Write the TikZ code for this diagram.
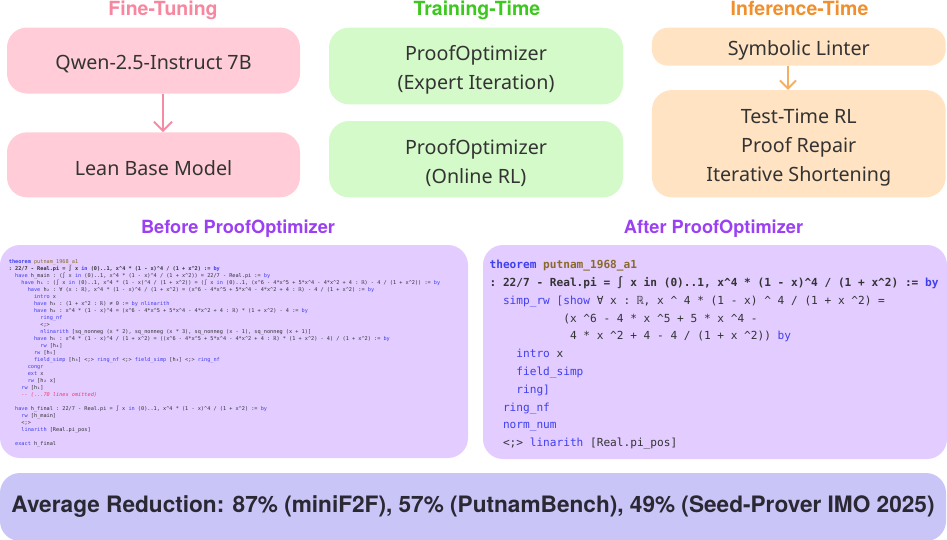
\documentclass[tikz,border=0pt]{standalone}
\usepackage{fontspec}
\usepackage{graphicx}
\setmainfont{Noto Sans}
\newfontfamily\headfont{TeX Gyre Heros}
\newfontfamily\codefont{DejaVu Sans Mono}
\usetikzlibrary{arrows.meta}
\definecolor{pinkbox}{HTML}{FFCCD8}
\definecolor{pinkT}{HTML}{F7879F}
\definecolor{pinkA}{HTML}{F58AA5}
\definecolor{greenbox}{HTML}{D3FAC8}
\definecolor{greenT}{HTML}{3CC81E}
\definecolor{peachbox}{HTML}{FFE3C2}
\definecolor{orangeT}{HTML}{F08F2E}
\definecolor{orangeA}{HTML}{F5AE62}
\definecolor{purpleT}{HTML}{9B40F2}
\definecolor{codebox}{HTML}{E3CCFF}
\definecolor{bannerbox}{HTML}{C9C5F7}
\definecolor{txt}{HTML}{333333}
\definecolor{bantxt}{HTML}{2A2833}
\definecolor{kw}{HTML}{3F3FEE}
\definecolor{nm}{HTML}{8A6A2B}
\definecolor{cm}{HTML}{F03A6A}
\newcommand\ind[1]{\hspace*{#1\fontcharwd\font`0}}
\newcommand\kw[1]{\textcolor{kw}{#1}}
\tikzset{
  box/.style={rounded corners=20pt, inner sep=0pt},
  boxlabel/.style={inner sep=0pt, align=center, text=txt,
    font=\fontsize{19.7}{29}\selectfont},
  coltitle/.style={inner sep=0pt, anchor=base, font=\headfont\bfseries\fontsize{19.5}{23}\selectfont},
  codetitle/.style={inner sep=0pt, anchor=base, font=\headfont\bfseries\fontsize{18.2}{22}\selectfont, text=purpleT},
  codepanel/.style={fill=codebox, rounded corners=20pt, inner sep=0pt},
  codetext/.style={inner sep=0pt, anchor=north west, align=left, text=txt},
  flowarrow/.style={line width=2pt, -{Straight Barb[length=9pt,width=18pt]}},
}
\begin{document}
\catcode`\^=12 \catcode`\_=12
\begin{tikzpicture}[x=1pt,y=-1pt]
\useasboundingbox (0,0) rectangle (947,539);
% column titles
\node[coltitle, text=pinkT] (tft) at (163,15.5) {Fine-Tuning};
\node[coltitle, text=greenT] (ttt) at (477,15.5) {Training-Time};
\node[coltitle, text=orangeT] (tit) at (799.5,15.5) {Inference-Time};
% fine-tuning
\node[box, fill=pinkbox, minimum width=293pt, minimum height=66pt] (qwen) at (153.5,60.5) {};
\node[boxlabel] (qwenT) at (153.5,64) {Qwen-2.5-Instruct 7B};
\node[box, fill=pinkbox, minimum width=293pt, minimum height=65pt] (lean) at (153.5,164.8) {};
\node[boxlabel] (leanT) at (153.5,168.3) {Lean Base Model};
\draw[flowarrow, pinkA] ([xshift=9.5pt]qwen.south) -- ([xshift=9.5pt]lean.north);
% training
\node[box, fill=greenbox, minimum width=294pt, minimum height=76.6pt] (ei) at (476,66) {};
\node[boxlabel] (eiT) at (476,69.5) {ProofOptimizer\\(Expert Iteration)};
\node[box, fill=greenbox, minimum width=294pt, minimum height=76.3pt] (orl) at (476,159.2) {};
\node[boxlabel] (orlT) at (476,162.7) {ProofOptimizer\\(Online RL)};
% inference
\node[box, fill=peachbox, minimum width=293.7pt, minimum height=38pt, rounded corners=16pt] (lint) at (798.8,46.7) {};
\node[boxlabel] (lintT) at (798.8,50.2) {Symbolic Linter};
\node[box, fill=peachbox, minimum width=293.7pt, minimum height=107.3pt] (ttrl) at (798.8,143.7) {};
\node[boxlabel] (ttrlT) at (798.8,147.5) {Test-Time RL\\Proof Repair\\Iterative Shortening};
\draw[flowarrow, orangeA, -{Straight Barb[length=8pt,width=16pt]}] ([xshift=-10.8pt]lint.south) -- ([xshift=-10.8pt]ttrl.north);
% code titles
\node[codetitle] (btitle) at (238,233.5) {Before ProofOptimizer};
\node[codetitle] (atitle) at (713.5,233.5) {After ProofOptimizer};
% code panels
\node[codepanel, minimum width=468pt, minimum height=213pt] (bpanel) at (234,351.5) {};
\node[codepanel, minimum width=464pt, minimum height=214pt] (apanel) at (715,352) {};
% before code
\node[codetext, font=\codefont\frenchspacing\fontsize{5.23}{7}\selectfont] (bcode) at (8.7,259.5) {%
\textbf{\kw{theorem}} \textcolor{nm}{putnam_1968_a1}\\
\textbf{: 22/7 - Real.pi = ∫ x \kw{in} (0)..1, x^4 * (1 - x)^4 / (1 + x^2) := \kw{by}}\\
\ind{2}\kw{have} h_main : (∫ x \kw{in} (0)..1, x^4 * (1 - x)^4 / (1 + x^2)) = 22/7 - Real.pi := \kw{by}\\
\ind{4}\kw{have} h₁ : (∫ x \kw{in} (0)..1, x^4 * (1 - x)^4 / (1 + x^2)) = (∫ x \kw{in} (0)..1, (x^6 - 4*x^5 + 5*x^4 - 4*x^2 + 4 : ℝ) - 4 / (1 + x^2)) := \kw{by}\\
\ind{6}\kw{have} h₂ : ∀ (x : ℝ), x^4 * (1 - x)^4 / (1 + x^2) = (x^6 - 4*x^5 + 5*x^4 - 4*x^2 + 4 : ℝ) - 4 / (1 + x^2) := \kw{by}\\
\ind{8}\kw{intro} x\\
\ind{8}\kw{have} h₃ : (1 + x^2 : ℝ) ≠ 0 := \kw{by nlinarith}\\
\ind{8}\kw{have} h₄ : x^4 * (1 - x)^4 = (x^6 - 4*x^5 + 5*x^4 - 4*x^2 + 4 : ℝ) * (1 + x^2) - 4 := \kw{by}\\
\ind{10}\kw{ring_nf}\\
\ind{10}<;>\\
\ind{10}\kw{nlinarith} [sq_nonneg (x * 2), sq_nonneg (x * 3), sq_nonneg (x - 1), sq_nonneg (x + 1)]\\
\ind{8}\kw{have} h₅ : x^4 * (1 - x)^4 / (1 + x^2) = ((x^6 - 4*x^5 + 5*x^4 - 4*x^2 + 4 : ℝ) * (1 + x^2) - 4) / (1 + x^2) := \kw{by}\\
\ind{10}\kw{rw} [h₄]\\
\ind{8}\kw{rw} [h₅]\\
\ind{8}\kw{field_simp} [h₃] <;> \kw{ring_nf} <;> \kw{field_simp} [h₃] <;> \kw{ring_nf}\\
\ind{6}\kw{congr}\\
\ind{6}\kw{ext} x\\
\ind{6}\kw{rw} [h₂ x]\\
\ind{4}\kw{rw} [h₁]\\
\ind{4}\textcolor{cm}{\itshape -{}- (...70 lines omitted)}\\
\\
\ind{2}\kw{have} h_final : 22/7 - Real.pi = ∫ x \kw{in} (0)..1, x^4 * (1 - x)^4 / (1 + x^2) := \kw{by}\\
\ind{4}\kw{rw} [h_main]\\
\ind{4}<;>\\
\ind{4}\kw{linarith} [Real.pi_pos]\\
\\
\ind{2}\kw{exact} h_final};
% after code
\node[codetext, font=\codefont\frenchspacing\fontsize{11.13}{17.8}\selectfont] (acode) at (489.4,260) {%
\textbf{\kw{theorem} \textcolor{nm}{putnam_1968_a1}}\\
\textbf{: 22/7 - Real.pi = ∫ x in (0)..1, x^4 * (1 - x)^4 / (1 + x^2) := \kw{by}}\\
\ind{2}\kw{simp_rw [show} ∀ x : ℝ, x ^ 4 * (1 - x) ^ 4 / (1 + x ^2) =\\
\ind{11}(x ^6 - 4 * x ^5 + 5 * x ^4 -\\
\ind{12}4 * x ^2 + 4 - 4 / (1 + x ^2)) \kw{by}\\
\ind{4}\kw{intro} x\\
\ind{4}\kw{field_simp}\\
\ind{4}\kw{ring]}\\
\ind{2}\kw{ring_nf}\\
\ind{2}\kw{norm_num}\\
\ind{2}<;> \kw{linarith} [Real.pi_pos]};
% banner
\node[fill=bannerbox, rounded corners=20pt, inner sep=0pt, minimum width=946pt, minimum height=68pt, text=bantxt] (banner) at (473,507)
  {\resizebox{923pt}{!}{\headfont\bfseries Average Reduction: 87\% (miniF2F), 57\% (PutnamBench), 49\% (Seed-Prover IMO 2025)}};
\end{tikzpicture}
\end{document}
